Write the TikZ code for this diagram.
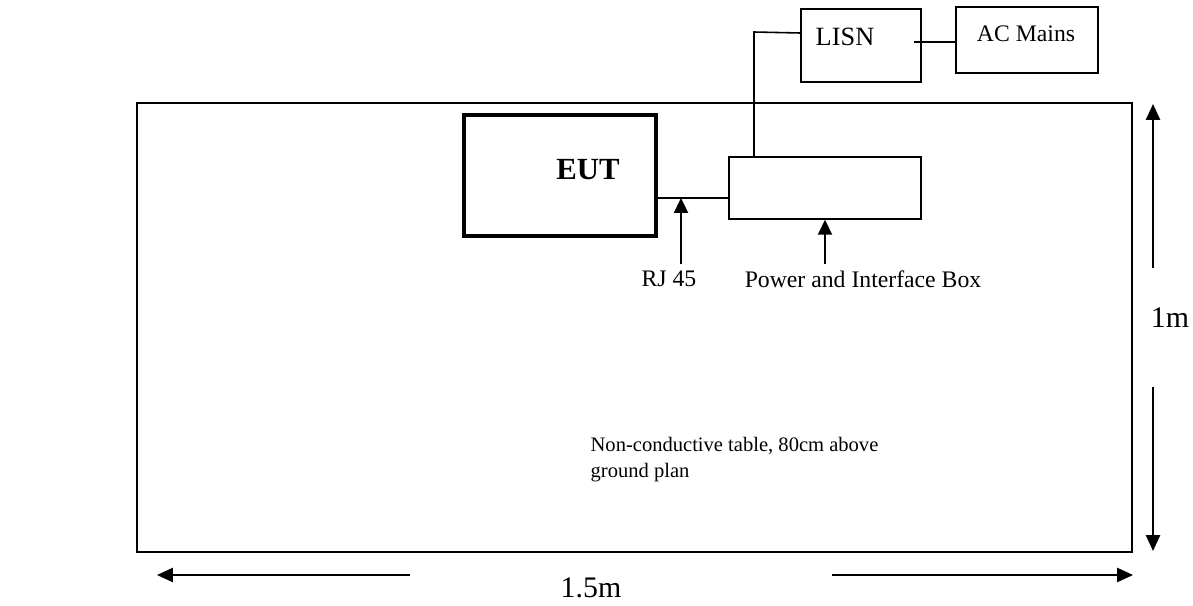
\documentclass[tikz,border=0pt]{standalone}
\usepackage{fontspec}
\setmainfont{Liberation Serif}
\usetikzlibrary{arrows.meta,positioning,calc}

\begin{document}
\begin{tikzpicture}[x=0.02cm, y=-0.02cm, line width=0.9pt,
    every node/.style={font=\fontsize{13.5}{16}\selectfont},
    unit/.style={draw, inner sep=0pt},
    pointer/.style={-{Triangle[width=8pt,length=8.5pt]}, line width=1.1pt},
    dimarrow/.style={-{Triangle[width=8pt,length=9pt]}, line width=1.1pt}]
  \useasboundingbox (0,0) rectangle (1193,605);
  % --- table top (plan view) ---
  \draw[line width=1.1pt] (137,103) rectangle (1132,552);
  % --- equipment boxes ---
  \node[unit, line width=2pt, minimum width=3.84cm, minimum height=2.42cm] (eut) at (560,175.5) {};
  \node[font=\fontsize{17.5}{20}\selectfont\bfseries] (euttext) at (588,170) {EUT};
  \node[unit, minimum width=3.84cm, minimum height=1.24cm] (pib) at (825,188) {};
  \node[unit, minimum width=2.4cm, minimum height=1.46cm] (lisn) at (861,45.5) {};
  \node[font=\fontsize{15}{18}\selectfont] (lisntext) at (845,37) {LISN};
  \node[unit, minimum width=2.84cm, minimum height=1.32cm] (acm) at (1027,40) {};
  \node (acmtext) at (1026,34) {AC Mains};
  % --- cabling ---
  \coordinate (rj) at (681,198);
  \coordinate (bend) at (754,32);
  \coordinate (tap) at (914,42);
  \coordinate (feed) at (825,0);
  \draw (eut.east |- rj) -- (pib.west |- rj);
  \draw (pib.north -| bend) -- (bend) -- (lisn.west |- 0,33);
  \draw (tap) -- (acm.west |- tap);
  % --- callouts ---
  \node (rjlabel) at (669,279) {RJ 45};
  \draw[pointer] (rjlabel.north -| rj) -- (rj);
  \node (pibtext) at (863,279) {Power and Interface Box};
  \draw[pointer] (pibtext.north -| feed) -- (pib.south -| feed);
  \node[anchor=north west, align=left, font=\fontsize{11.7}{14.7}\selectfont] (note) at (584,431)
    {Non-conductive table, 80cm above\\ground plan};
  % --- dimensions ---
  \node[font=\fontsize{17}{20}\selectfont] (tabwidth) at (591,588) {1.5m};
  \draw[dimarrow] (410,575) -- (157,575);
  \draw[dimarrow] (832,575) -- (1133,575);
  \node[font=\fontsize{17}{20}\selectfont] (tabdepth) at (1170,318) {1m};
  \draw[dimarrow] (1153,268) -- (1153,104);
  \draw[dimarrow] (1153,387) -- (1153,551);
\end{tikzpicture}
\end{document}
